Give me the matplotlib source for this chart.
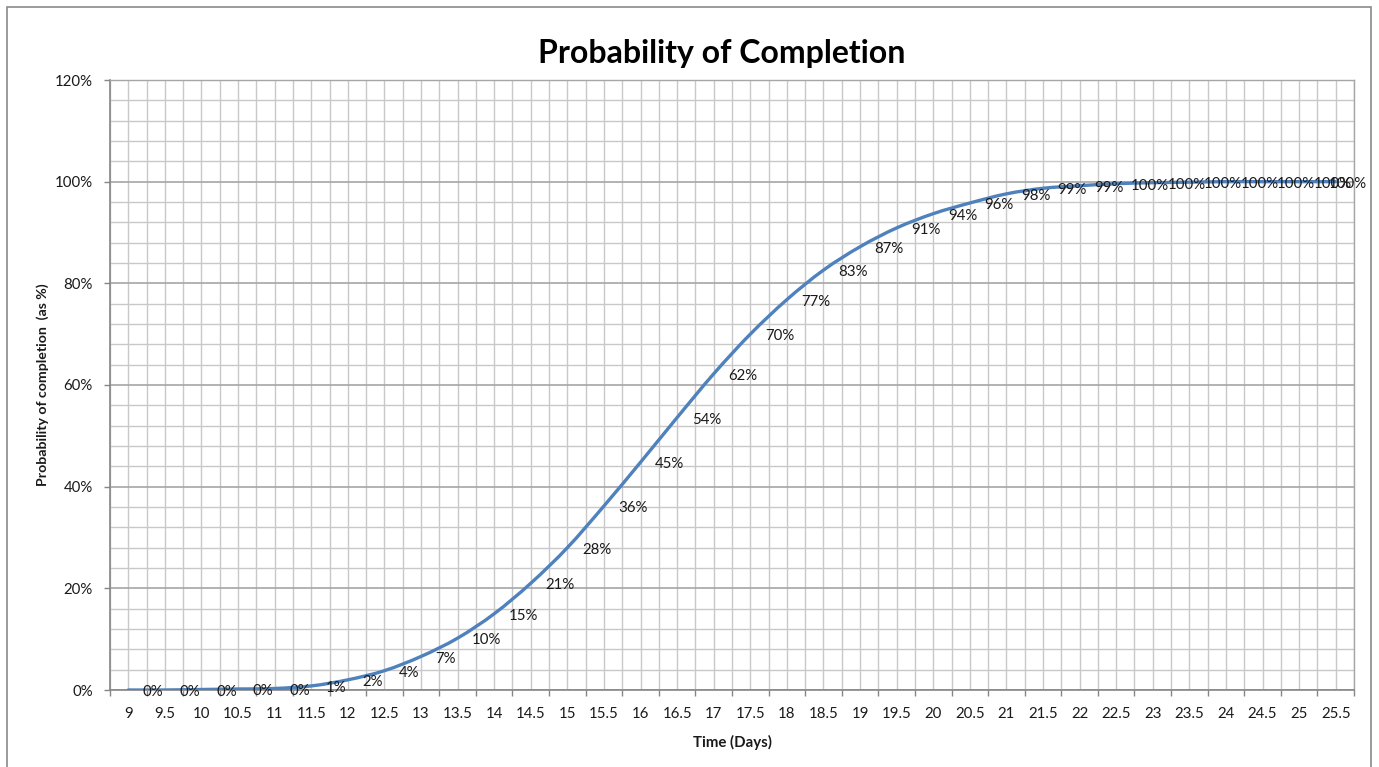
import matplotlib
matplotlib.use("Agg")
import matplotlib.pyplot as plt
from matplotlib.path import Path
from matplotlib.patches import PathPatch, Rectangle
import numpy as np

# ---- data ----
days = ["9", "9.5", "10", "10.5", "11", "11.5", "12", "12.5", "13", "13.5",
        "14", "14.5", "15", "15.5", "16", "16.5", "17", "17.5", "18", "18.5",
        "19", "19.5", "20", "20.5", "21", "21.5", "22", "22.5", "23", "23.5",
        "24", "24.5", "25", "25.5"]
probability = [0.0, 0.0, 0.1, 0.2, 0.3, 0.8, 2.0, 3.8, 6.6, 10.2,
               15.0, 21.0, 28.0, 36.2, 44.8, 53.6, 62.2, 70.0, 76.8, 82.6,
               87.2, 90.9, 93.7, 95.8, 97.6, 98.7, 99.2, 99.6, 99.8, 99.9,
               100.0, 100.0, 100.0, 100.0]
y_ticks = [0, 20, 40, 60, 80, 100, 120]

FONT = ["Lato", "DejaVu Sans"]
plt.rcParams["font.family"] = FONT

W, H = 1379, 767
fig = plt.figure(figsize=(W / 100, H / 100), dpi=100)
fig.patch.set_facecolor("white")
ax = fig.add_axes([110 / W, 1 - 690 / H, (1354 - 110) / W, (690 - 80) / H])

x = np.arange(len(days))
ax.set_xlim(-0.5, len(days) - 0.5)
ax.set_ylim(0, 120)

# grid
grid_c = "#c8c8c8"
major_c = "#a6a6a6"
for gx in np.arange(-0.5, len(days), 0.5):
    ax.axvline(gx, color=grid_c, lw=1.0, zorder=0)
for gy in range(0, 121, 4):
    ax.axhline(gy, color=major_c if gy % 20 == 0 else grid_c,
               lw=1.2 if gy % 20 == 0 else 1.0, zorder=0)

# smooth line (Catmull-Rom -> cubic Bezier in data coordinates)
pts = np.column_stack([x, probability]).astype(float)
verts = [pts[0]]
codes = [Path.MOVETO]
n = len(pts)
for i in range(n - 1):
    p0 = pts[i - 1] if i > 0 else pts[i]
    p1 = pts[i]
    p2 = pts[i + 1]
    p3 = pts[i + 2] if i + 2 < n else pts[i + 1]
    c1 = p1 + (p2 - p0) / 6.0
    c2 = p2 - (p3 - p1) / 6.0
    verts += [c1, c2, p2]
    codes += [Path.CURVE4] * 3
path = Path(verts, codes)
ax.add_patch(PathPatch(path, facecolor="none", edgecolor="#4f81bd", lw=2.4,
                       capstyle="round", joinstyle="round", zorder=3))

# data labels (last one pushed inside the chart border, as Excel does)
for i, (xi, v) in enumerate(zip(x, probability)):
    if i == len(x) - 1:
        ax.annotate(f"{v:.0f}%", (xi, v), xytext=(22.5, -1.5), textcoords="offset points",
                    ha="right", va="center", fontsize=10.8, color="#1a1a1a",
                    annotation_clip=False, zorder=4)
    else:
        ax.annotate(f"{v:.0f}%", (xi, v), xytext=(10.5, -1.5), textcoords="offset points",
                    ha="left", va="center", fontsize=10.8, color="#1a1a1a",
                    annotation_clip=False, zorder=4)

# axes styling
for s in ["left", "bottom"]:
    ax.spines[s].set_color("#868686")
    ax.spines[s].set_linewidth(1.2)
for s in ["top", "right"]:
    ax.spines[s].set_color(major_c)
    ax.spines[s].set_linewidth(1.0)

ax.set_xticks(x)
ax.set_xticklabels(days)
ax.set_xticks(np.arange(-0.5, len(days), 1.0), minor=True)
ax.tick_params(axis="x", which="major", length=0, pad=12.5, labelsize=10.8, colors="#1a1a1a")
ax.tick_params(axis="x", which="minor", length=4, width=1.0, color="#868686", direction="out")

ax.set_yticks(y_ticks)
ax.set_yticklabels([f"{t}%" for t in y_ticks])
ax.tick_params(axis="y", which="major", length=4, width=1.0, color="#868686",
               pad=8.5, labelsize=10.8, labelcolor="#1a1a1a")

ax.set_xlabel("Time (Days)", fontsize=10.8, fontweight="bold", color="#1a1a1a")
ax.xaxis.set_label_coords(0.5, -(742 - 690) / 610, transform=ax.transAxes)
ax.xaxis.label.set_va("center")
ax.set_ylabel("Probability of completion  (as %)", fontsize=10.2, fontweight="bold", color="#1a1a1a")
ax.yaxis.set_label_coords(-(110 - 43) / 1244, 0.5)
ax.yaxis.label.set_va("center")

fig.text(722 / W, 1 - 53 / H, "Probability of Completion", ha="center", va="center",
         fontsize=23, fontweight="bold", color="black")

# outer chart border
fig.patches.append(Rectangle((7 / W, -0.05), (1371 - 7) / W, 1.05 - 7 / H,
                             transform=fig.transFigure, fill=False,
                             edgecolor="#8a8a8a", lw=1.2))

fig.savefig("out.png", dpi=100)
